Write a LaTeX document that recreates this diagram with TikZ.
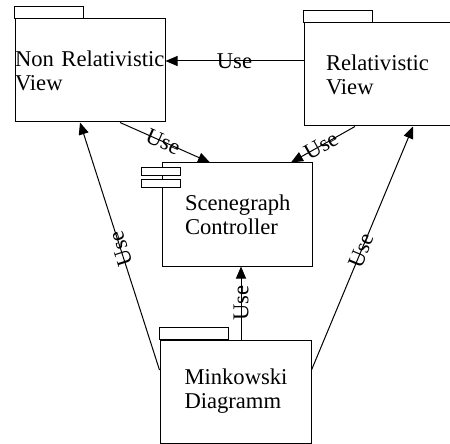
\documentclass[tikz,border=0pt]{standalone}
\usepackage{fontspec}
\setmainfont{Liberation Serif}
\usetikzlibrary{arrows.meta,calc}

\begin{document}
\begin{tikzpicture}[x=0.5pt, y=-0.5pt, line width=0.5pt,
      pkg/.style = {shape=rectangle, draw, align=left, inner sep=0pt,
        minimum width=75pt, minimum height=51.5pt,
        font=\fontsize{11.3}{12}\selectfont},
      usearrow/.style = {draw, -{Triangle[length=6pt,width=5pt]}},
      uselabel/.style = {sloped, inner sep=0pt,
        font=\fontsize{11.3}{12}\selectfont}]
  \clip (0,0) rectangle (450,444);
  % packages and component
  \node[pkg, text width=75pt] (nonrel) at (90,70.5) {Non Relativistic\\View};
  \node[pkg, text width=53pt] (rel) at (379,74.5) {Relativistic\\View};
  \node[pkg, text width=52pt] (scene) at (237,214.5) {Scenegraph\\Controller};
  \node[pkg, text width=51pt, minimum width=75.5pt] (mink) at (235.5,391.5) {Minkowski\\Diagramm};
  \foreach \n in {nonrel,rel,mink}
    \draw (\n.north west) rectangle ++(34.5pt,6pt);
  \draw[fill=white] ([shift={(-10pt,-2.5pt)}]scene.north west) rectangle ++(19.5pt,-4pt);
  \draw[fill=white] ([shift={(-10pt,-8.5pt)}]scene.north west) rectangle ++(19.5pt,-4pt);
  % dependencies
  \draw[usearrow] ($(rel.west)+(0,-13.5)$) -- ($(nonrel.east)+(0,-9.5)$)
    node[uselabel, midway] {Use};
  \draw[usearrow] ($(nonrel.south)+(30,0)$) -- ($(scene.north)+(-27,0)$)
    node[uselabel, pos=0.48] {Use};
  \draw[usearrow] ($(rel.south)+(-24,0)$) -- ($(scene.north)+(54,0)$)
    node[uselabel, pos=0.53] {Use};
  \draw[usearrow] ($(mink.west)+(0,-21.5)$) -- ($(nonrel.south)+(-10,0)$)
    node[uselabel, allow upside down, pos=0.49] {Use};
  \draw[usearrow] ($(mink.east)+(0,-21.5)$) -- ($(rel.south)+(34,0)$)
    node[uselabel, pos=0.49] {Use};
  \draw[usearrow] ($(mink.north)+(5.5,0)$) -- ($(scene.south)+(4,0)$)
    node[uselabel, midway] {Use};
\end{tikzpicture}
\end{document}
